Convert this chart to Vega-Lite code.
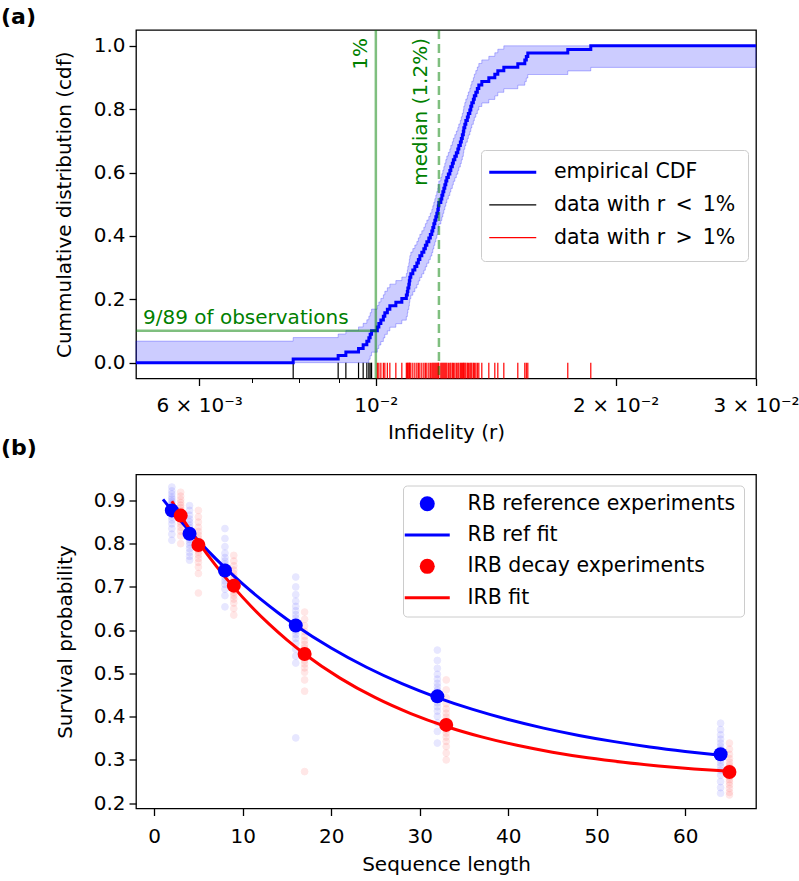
{
  "$schema": "https://vega.github.io/schema/vega-lite/v6.json",
  "padding": {"left": 0, "top": 5, "right": 5, "bottom": 5},
  "background": "white",
  "config": {
    "font": "DejaVu Sans",
    "view": {"stroke": "#000000", "strokeWidth": 1.3},
    "axis": {
      "domain": false, "grid": false,
      "tickColor": "#000000", "tickWidth": 1.3, "tickSize": 7,
      "labelFont": "DejaVu Sans", "labelFontSize": 20, "labelColor": "#000000", "labelPadding": 4,
      "titleFont": "DejaVu Sans", "titleFontSize": 20, "titleFontWeight": "normal", "titleColor": "#000000"
    },
    "title": {"font": "DejaVu Sans", "fontSize": 22, "fontWeight": "bold", "color": "#000000", "anchor": "start", "frame": "group", "baseline": "alphabetic"}
  },
  "datasets": {
    "cdf": [
      {"r": 0.005, "c": 0, "lo": 0, "hi": 0.068, "g": "edge"},
      {"r": 0.007875, "c": 0.0112, "lo": 0, "hi": 0.0792, "g": "b"},
      {"r": 0.008968, "c": 0.0225, "lo": 0, "hi": 0.0905, "g": "b"},
      {"r": 0.00917, "c": 0.0337, "lo": 0, "hi": 0.1017, "g": "b"},
      {"r": 0.009512, "c": 0.0449, "lo": 0, "hi": 0.1129, "g": "b"},
      {"r": 0.00964, "c": 0.0562, "lo": 0, "hi": 0.1242, "g": "b"},
      {"r": 0.009743, "c": 0.0674, "lo": 0, "hi": 0.1354, "g": "b"},
      {"r": 0.0098, "c": 0.0787, "lo": 0.0107, "hi": 0.1467, "g": "b"},
      {"r": 0.009837, "c": 0.0899, "lo": 0.0219, "hi": 0.1579, "g": "b"},
      {"r": 0.009877, "c": 0.1011, "lo": 0.0331, "hi": 0.1691, "g": "b"},
      {"r": 0.010043, "c": 0.1124, "lo": 0.0444, "hi": 0.1804, "g": "a"},
      {"r": 0.010087, "c": 0.1236, "lo": 0.0556, "hi": 0.1916, "g": "a"},
      {"r": 0.010146, "c": 0.1348, "lo": 0.0668, "hi": 0.2028, "g": "a"},
      {"r": 0.010219, "c": 0.1461, "lo": 0.0781, "hi": 0.2141, "g": "a"},
      {"r": 0.010263, "c": 0.1573, "lo": 0.0893, "hi": 0.2253, "g": "a"},
      {"r": 0.010338, "c": 0.1685, "lo": 0.1005, "hi": 0.2365, "g": "a"},
      {"r": 0.010413, "c": 0.1798, "lo": 0.1118, "hi": 0.2478, "g": "a"},
      {"r": 0.010595, "c": 0.191, "lo": 0.123, "hi": 0.259, "g": "a"},
      {"r": 0.01078, "c": 0.2022, "lo": 0.1342, "hi": 0.2702, "g": "a"},
      {"r": 0.010921, "c": 0.2135, "lo": 0.1455, "hi": 0.2815, "g": "a"},
      {"r": 0.010953, "c": 0.2247, "lo": 0.1567, "hi": 0.2927, "g": "a"},
      {"r": 0.010969, "c": 0.236, "lo": 0.168, "hi": 0.304, "g": "a"},
      {"r": 0.011, "c": 0.2472, "lo": 0.1792, "hi": 0.3152, "g": "a"},
      {"r": 0.011016, "c": 0.2584, "lo": 0.1904, "hi": 0.3264, "g": "a"},
      {"r": 0.011032, "c": 0.2697, "lo": 0.2017, "hi": 0.3377, "g": "a"},
      {"r": 0.011064, "c": 0.2809, "lo": 0.2129, "hi": 0.3489, "g": "a"},
      {"r": 0.011128, "c": 0.2921, "lo": 0.2241, "hi": 0.3601, "g": "a"},
      {"r": 0.011193, "c": 0.3034, "lo": 0.2354, "hi": 0.3714, "g": "a"},
      {"r": 0.011258, "c": 0.3146, "lo": 0.2466, "hi": 0.3826, "g": "a"},
      {"r": 0.011307, "c": 0.3258, "lo": 0.2578, "hi": 0.3938, "g": "a"},
      {"r": 0.011356, "c": 0.3371, "lo": 0.2691, "hi": 0.4051, "g": "a"},
      {"r": 0.011421, "c": 0.3483, "lo": 0.2803, "hi": 0.4163, "g": "a"},
      {"r": 0.011488, "c": 0.3596, "lo": 0.2916, "hi": 0.4276, "g": "a"},
      {"r": 0.011538, "c": 0.3708, "lo": 0.3028, "hi": 0.4388, "g": "a"},
      {"r": 0.011588, "c": 0.382, "lo": 0.314, "hi": 0.45, "g": "a"},
      {"r": 0.011655, "c": 0.3933, "lo": 0.3253, "hi": 0.4613, "g": "a"},
      {"r": 0.011705, "c": 0.4045, "lo": 0.3365, "hi": 0.4725, "g": "a"},
      {"r": 0.011756, "c": 0.4157, "lo": 0.3477, "hi": 0.4837, "g": "a"},
      {"r": 0.01179, "c": 0.427, "lo": 0.359, "hi": 0.495, "g": "a"},
      {"r": 0.011824, "c": 0.4382, "lo": 0.3702, "hi": 0.5062, "g": "a"},
      {"r": 0.011859, "c": 0.4494, "lo": 0.3814, "hi": 0.5174, "g": "a"},
      {"r": 0.011893, "c": 0.4607, "lo": 0.3927, "hi": 0.5287, "g": "a"},
      {"r": 0.011927, "c": 0.4719, "lo": 0.4039, "hi": 0.5399, "g": "a"},
      {"r": 0.011962, "c": 0.4831, "lo": 0.4151, "hi": 0.5511, "g": "a"},
      {"r": 0.011979, "c": 0.4944, "lo": 0.4264, "hi": 0.5624, "g": "a"},
      {"r": 0.011996, "c": 0.5056, "lo": 0.4376, "hi": 0.5736, "g": "a"},
      {"r": 0.012066, "c": 0.5169, "lo": 0.4489, "hi": 0.5849, "g": "a"},
      {"r": 0.012101, "c": 0.5281, "lo": 0.4601, "hi": 0.5961, "g": "a"},
      {"r": 0.012136, "c": 0.5393, "lo": 0.4713, "hi": 0.6073, "g": "a"},
      {"r": 0.012171, "c": 0.5506, "lo": 0.4826, "hi": 0.6186, "g": "a"},
      {"r": 0.012206, "c": 0.5618, "lo": 0.4938, "hi": 0.6298, "g": "a"},
      {"r": 0.012241, "c": 0.573, "lo": 0.505, "hi": 0.641, "g": "a"},
      {"r": 0.012277, "c": 0.5843, "lo": 0.5163, "hi": 0.6523, "g": "a"},
      {"r": 0.01233, "c": 0.5955, "lo": 0.5275, "hi": 0.6635, "g": "a"},
      {"r": 0.012384, "c": 0.6067, "lo": 0.5387, "hi": 0.6747, "g": "a"},
      {"r": 0.01242, "c": 0.618, "lo": 0.55, "hi": 0.686, "g": "a"},
      {"r": 0.012473, "c": 0.6292, "lo": 0.5612, "hi": 0.6972, "g": "a"},
      {"r": 0.01251, "c": 0.6404, "lo": 0.5724, "hi": 0.7084, "g": "a"},
      {"r": 0.012564, "c": 0.6517, "lo": 0.5837, "hi": 0.7197, "g": "a"},
      {"r": 0.012618, "c": 0.6629, "lo": 0.5949, "hi": 0.7309, "g": "a"},
      {"r": 0.012673, "c": 0.6742, "lo": 0.6062, "hi": 0.7422, "g": "a"},
      {"r": 0.01271, "c": 0.6854, "lo": 0.6174, "hi": 0.7534, "g": "a"},
      {"r": 0.012765, "c": 0.6966, "lo": 0.6286, "hi": 0.7646, "g": "a"},
      {"r": 0.012802, "c": 0.7079, "lo": 0.6399, "hi": 0.7759, "g": "a"},
      {"r": 0.012839, "c": 0.7191, "lo": 0.6511, "hi": 0.7871, "g": "a"},
      {"r": 0.012876, "c": 0.7303, "lo": 0.6623, "hi": 0.7983, "g": "a"},
      {"r": 0.012895, "c": 0.7416, "lo": 0.6736, "hi": 0.8096, "g": "a"},
      {"r": 0.012932, "c": 0.7528, "lo": 0.6848, "hi": 0.8208, "g": "a"},
      {"r": 0.01297, "c": 0.764, "lo": 0.696, "hi": 0.832, "g": "a"},
      {"r": 0.013026, "c": 0.7753, "lo": 0.7073, "hi": 0.8433, "g": "a"},
      {"r": 0.013064, "c": 0.7865, "lo": 0.7185, "hi": 0.8545, "g": "a"},
      {"r": 0.01312, "c": 0.7978, "lo": 0.7298, "hi": 0.8658, "g": "a"},
      {"r": 0.013158, "c": 0.809, "lo": 0.741, "hi": 0.877, "g": "a"},
      {"r": 0.013196, "c": 0.8202, "lo": 0.7522, "hi": 0.8882, "g": "a"},
      {"r": 0.013254, "c": 0.8315, "lo": 0.7635, "hi": 0.8995, "g": "a"},
      {"r": 0.013292, "c": 0.8427, "lo": 0.7747, "hi": 0.9107, "g": "a"},
      {"r": 0.01335, "c": 0.8539, "lo": 0.7859, "hi": 0.9219, "g": "a"},
      {"r": 0.013408, "c": 0.8652, "lo": 0.7972, "hi": 0.9332, "g": "a"},
      {"r": 0.013466, "c": 0.8764, "lo": 0.8084, "hi": 0.9444, "g": "a"},
      {"r": 0.013583, "c": 0.8876, "lo": 0.8196, "hi": 0.9556, "g": "a"},
      {"r": 0.013861, "c": 0.8989, "lo": 0.8309, "hi": 0.9669, "g": "a"},
      {"r": 0.014103, "c": 0.9101, "lo": 0.8421, "hi": 0.9781, "g": "a"},
      {"r": 0.014226, "c": 0.9213, "lo": 0.8533, "hi": 0.9893, "g": "a"},
      {"r": 0.014475, "c": 0.9326, "lo": 0.8646, "hi": 1, "g": "a"},
      {"r": 0.015072, "c": 0.9438, "lo": 0.8758, "hi": 1, "g": "a"},
      {"r": 0.01538, "c": 0.9551, "lo": 0.8871, "hi": 1, "g": "a"},
      {"r": 0.015447, "c": 0.9663, "lo": 0.8983, "hi": 1, "g": "a"},
      {"r": 0.015514, "c": 0.9775, "lo": 0.9095, "hi": 1, "g": "a"},
      {"r": 0.017414, "c": 0.9888, "lo": 0.9208, "hi": 1, "g": "a"},
      {"r": 0.018611, "c": 1, "lo": 0.932, "hi": 1, "g": "a"},
      {"r": 0.03, "c": 1, "lo": 0.932, "hi": 1, "g": "edge"}
    ],
    "raw": [
      {"s": "RB", "L": 2, "p": 0.931}, {"s": "RB", "L": 2, "p": 0.922}, {"s": "RB", "L": 2, "p": 0.915}, {"s": "RB", "L": 2, "p": 0.908},
      {"s": "RB", "L": 2, "p": 0.903}, {"s": "RB", "L": 2, "p": 0.898}, {"s": "RB", "L": 2, "p": 0.893}, {"s": "RB", "L": 2, "p": 0.889},
      {"s": "RB", "L": 2, "p": 0.885}, {"s": "RB", "L": 2, "p": 0.881}, {"s": "RB", "L": 2, "p": 0.877}, {"s": "RB", "L": 2, "p": 0.872},
      {"s": "RB", "L": 2, "p": 0.868}, {"s": "RB", "L": 2, "p": 0.862}, {"s": "RB", "L": 2, "p": 0.855}, {"s": "RB", "L": 2, "p": 0.846},
      {"s": "RB", "L": 2, "p": 0.835}, {"s": "RB", "L": 2, "p": 0.822}, {"s": "RB", "L": 2, "p": 0.808},
      {"s": "IRB", "L": 3, "p": 0.919}, {"s": "IRB", "L": 3, "p": 0.91}, {"s": "IRB", "L": 3, "p": 0.902}, {"s": "IRB", "L": 3, "p": 0.895},
      {"s": "IRB", "L": 3, "p": 0.889}, {"s": "IRB", "L": 3, "p": 0.883}, {"s": "IRB", "L": 3, "p": 0.877}, {"s": "IRB", "L": 3, "p": 0.872},
      {"s": "IRB", "L": 3, "p": 0.867}, {"s": "IRB", "L": 3, "p": 0.862}, {"s": "IRB", "L": 3, "p": 0.857}, {"s": "IRB", "L": 3, "p": 0.851},
      {"s": "IRB", "L": 3, "p": 0.845}, {"s": "IRB", "L": 3, "p": 0.838}, {"s": "IRB", "L": 3, "p": 0.829}, {"s": "IRB", "L": 3, "p": 0.818},
      {"s": "IRB", "L": 3, "p": 0.8},
      {"s": "RB", "L": 4, "p": 0.888}, {"s": "RB", "L": 4, "p": 0.877}, {"s": "RB", "L": 4, "p": 0.866}, {"s": "RB", "L": 4, "p": 0.857},
      {"s": "RB", "L": 4, "p": 0.85}, {"s": "RB", "L": 4, "p": 0.843}, {"s": "RB", "L": 4, "p": 0.837}, {"s": "RB", "L": 4, "p": 0.831},
      {"s": "RB", "L": 4, "p": 0.826}, {"s": "RB", "L": 4, "p": 0.821}, {"s": "RB", "L": 4, "p": 0.816}, {"s": "RB", "L": 4, "p": 0.81},
      {"s": "RB", "L": 4, "p": 0.804}, {"s": "RB", "L": 4, "p": 0.797}, {"s": "RB", "L": 4, "p": 0.789}, {"s": "RB", "L": 4, "p": 0.78},
      {"s": "RB", "L": 4, "p": 0.771}, {"s": "RB", "L": 4, "p": 0.762},
      {"s": "IRB", "L": 5, "p": 0.877}, {"s": "IRB", "L": 5, "p": 0.862}, {"s": "IRB", "L": 5, "p": 0.85}, {"s": "IRB", "L": 5, "p": 0.838},
      {"s": "IRB", "L": 5, "p": 0.828}, {"s": "IRB", "L": 5, "p": 0.82}, {"s": "IRB", "L": 5, "p": 0.812}, {"s": "IRB", "L": 5, "p": 0.805},
      {"s": "IRB", "L": 5, "p": 0.799}, {"s": "IRB", "L": 5, "p": 0.793}, {"s": "IRB", "L": 5, "p": 0.787}, {"s": "IRB", "L": 5, "p": 0.781},
      {"s": "IRB", "L": 5, "p": 0.774}, {"s": "IRB", "L": 5, "p": 0.766}, {"s": "IRB", "L": 5, "p": 0.757}, {"s": "IRB", "L": 5, "p": 0.746},
      {"s": "IRB", "L": 5, "p": 0.731}, {"s": "IRB", "L": 5, "p": 0.686},
      {"s": "RB", "L": 8, "p": 0.835}, {"s": "RB", "L": 8, "p": 0.812}, {"s": "RB", "L": 8, "p": 0.793}, {"s": "RB", "L": 8, "p": 0.778},
      {"s": "RB", "L": 8, "p": 0.768}, {"s": "RB", "L": 8, "p": 0.76}, {"s": "RB", "L": 8, "p": 0.753}, {"s": "RB", "L": 8, "p": 0.747},
      {"s": "RB", "L": 8, "p": 0.741}, {"s": "RB", "L": 8, "p": 0.735}, {"s": "RB", "L": 8, "p": 0.729}, {"s": "RB", "L": 8, "p": 0.722},
      {"s": "RB", "L": 8, "p": 0.714}, {"s": "RB", "L": 8, "p": 0.706}, {"s": "RB", "L": 8, "p": 0.695}, {"s": "RB", "L": 8, "p": 0.68},
      {"s": "RB", "L": 8, "p": 0.654},
      {"s": "IRB", "L": 9, "p": 0.773}, {"s": "IRB", "L": 9, "p": 0.76}, {"s": "IRB", "L": 9, "p": 0.749}, {"s": "IRB", "L": 9, "p": 0.739},
      {"s": "IRB", "L": 9, "p": 0.731}, {"s": "IRB", "L": 9, "p": 0.724}, {"s": "IRB", "L": 9, "p": 0.717}, {"s": "IRB", "L": 9, "p": 0.711},
      {"s": "IRB", "L": 9, "p": 0.705}, {"s": "IRB", "L": 9, "p": 0.699}, {"s": "IRB", "L": 9, "p": 0.693}, {"s": "IRB", "L": 9, "p": 0.687},
      {"s": "IRB", "L": 9, "p": 0.68}, {"s": "IRB", "L": 9, "p": 0.672}, {"s": "IRB", "L": 9, "p": 0.663}, {"s": "IRB", "L": 9, "p": 0.65},
      {"s": "IRB", "L": 9, "p": 0.635},
      {"s": "RB", "L": 16, "p": 0.723}, {"s": "RB", "L": 16, "p": 0.7}, {"s": "RB", "L": 16, "p": 0.682}, {"s": "RB", "L": 16, "p": 0.667},
      {"s": "RB", "L": 16, "p": 0.655}, {"s": "RB", "L": 16, "p": 0.645}, {"s": "RB", "L": 16, "p": 0.636}, {"s": "RB", "L": 16, "p": 0.628},
      {"s": "RB", "L": 16, "p": 0.62}, {"s": "RB", "L": 16, "p": 0.613}, {"s": "RB", "L": 16, "p": 0.606}, {"s": "RB", "L": 16, "p": 0.598},
      {"s": "RB", "L": 16, "p": 0.59}, {"s": "RB", "L": 16, "p": 0.581}, {"s": "RB", "L": 16, "p": 0.57}, {"s": "RB", "L": 16, "p": 0.556},
      {"s": "RB", "L": 16, "p": 0.54}, {"s": "RB", "L": 16, "p": 0.524}, {"s": "RB", "L": 16, "p": 0.351},
      {"s": "IRB", "L": 17, "p": 0.642}, {"s": "IRB", "L": 17, "p": 0.625}, {"s": "IRB", "L": 17, "p": 0.61}, {"s": "IRB", "L": 17, "p": 0.597},
      {"s": "IRB", "L": 17, "p": 0.586}, {"s": "IRB", "L": 17, "p": 0.576}, {"s": "IRB", "L": 17, "p": 0.567}, {"s": "IRB", "L": 17, "p": 0.559},
      {"s": "IRB", "L": 17, "p": 0.552}, {"s": "IRB", "L": 17, "p": 0.545}, {"s": "IRB", "L": 17, "p": 0.538}, {"s": "IRB", "L": 17, "p": 0.53},
      {"s": "IRB", "L": 17, "p": 0.522}, {"s": "IRB", "L": 17, "p": 0.513}, {"s": "IRB", "L": 17, "p": 0.503}, {"s": "IRB", "L": 17, "p": 0.485},
      {"s": "IRB", "L": 17, "p": 0.459}, {"s": "IRB", "L": 17, "p": 0.273},
      {"s": "RB", "L": 32, "p": 0.554}, {"s": "RB", "L": 32, "p": 0.53}, {"s": "RB", "L": 32, "p": 0.512}, {"s": "RB", "L": 32, "p": 0.498},
      {"s": "RB", "L": 32, "p": 0.487}, {"s": "RB", "L": 32, "p": 0.477}, {"s": "RB", "L": 32, "p": 0.469}, {"s": "RB", "L": 32, "p": 0.461},
      {"s": "RB", "L": 32, "p": 0.454}, {"s": "RB", "L": 32, "p": 0.447}, {"s": "RB", "L": 32, "p": 0.44}, {"s": "RB", "L": 32, "p": 0.432},
      {"s": "RB", "L": 32, "p": 0.423}, {"s": "RB", "L": 32, "p": 0.413}, {"s": "RB", "L": 32, "p": 0.401}, {"s": "RB", "L": 32, "p": 0.386},
      {"s": "RB", "L": 32, "p": 0.366}, {"s": "RB", "L": 32, "p": 0.339},
      {"s": "IRB", "L": 33, "p": 0.485}, {"s": "IRB", "L": 33, "p": 0.462}, {"s": "IRB", "L": 33, "p": 0.444}, {"s": "IRB", "L": 33, "p": 0.43},
      {"s": "IRB", "L": 33, "p": 0.418}, {"s": "IRB", "L": 33, "p": 0.408}, {"s": "IRB", "L": 33, "p": 0.399}, {"s": "IRB", "L": 33, "p": 0.391},
      {"s": "IRB", "L": 33, "p": 0.384}, {"s": "IRB", "L": 33, "p": 0.377}, {"s": "IRB", "L": 33, "p": 0.37}, {"s": "IRB", "L": 33, "p": 0.362},
      {"s": "IRB", "L": 33, "p": 0.353}, {"s": "IRB", "L": 33, "p": 0.343}, {"s": "IRB", "L": 33, "p": 0.331}, {"s": "IRB", "L": 33, "p": 0.316},
      {"s": "IRB", "L": 33, "p": 0.3},
      {"s": "RB", "L": 64, "p": 0.385}, {"s": "RB", "L": 64, "p": 0.37}, {"s": "RB", "L": 64, "p": 0.358}, {"s": "RB", "L": 64, "p": 0.348},
      {"s": "RB", "L": 64, "p": 0.339}, {"s": "RB", "L": 64, "p": 0.331}, {"s": "RB", "L": 64, "p": 0.324}, {"s": "RB", "L": 64, "p": 0.318},
      {"s": "RB", "L": 64, "p": 0.312}, {"s": "RB", "L": 64, "p": 0.306}, {"s": "RB", "L": 64, "p": 0.3}, {"s": "RB", "L": 64, "p": 0.293},
      {"s": "RB", "L": 64, "p": 0.285}, {"s": "RB", "L": 64, "p": 0.276}, {"s": "RB", "L": 64, "p": 0.265}, {"s": "RB", "L": 64, "p": 0.25},
      {"s": "RB", "L": 64, "p": 0.236}, {"s": "RB", "L": 64, "p": 0.223},
      {"s": "IRB", "L": 65, "p": 0.339}, {"s": "IRB", "L": 65, "p": 0.325}, {"s": "IRB", "L": 65, "p": 0.313}, {"s": "IRB", "L": 65, "p": 0.303},
      {"s": "IRB", "L": 65, "p": 0.295}, {"s": "IRB", "L": 65, "p": 0.288}, {"s": "IRB", "L": 65, "p": 0.282}, {"s": "IRB", "L": 65, "p": 0.276},
      {"s": "IRB", "L": 65, "p": 0.271}, {"s": "IRB", "L": 65, "p": 0.266}, {"s": "IRB", "L": 65, "p": 0.261}, {"s": "IRB", "L": 65, "p": 0.255},
      {"s": "IRB", "L": 65, "p": 0.249}, {"s": "IRB", "L": 65, "p": 0.242}, {"s": "IRB", "L": 65, "p": 0.234}, {"s": "IRB", "L": 65, "p": 0.225},
      {"s": "IRB", "L": 65, "p": 0.219}
    ],
    "fit": [
      {"s": "RB ref fit", "L": 1, "p": 0.9024}, {"s": "RB ref fit", "L": 2, "p": 0.877}, {"s": "RB ref fit", "L": 3, "p": 0.8526},
      {"s": "RB ref fit", "L": 4, "p": 0.8292}, {"s": "RB ref fit", "L": 6, "p": 0.7852}, {"s": "RB ref fit", "L": 8, "p": 0.7445},
      {"s": "RB ref fit", "L": 10, "p": 0.707}, {"s": "RB ref fit", "L": 12, "p": 0.6724}, {"s": "RB ref fit", "L": 14, "p": 0.6405},
      {"s": "RB ref fit", "L": 16, "p": 0.611}, {"s": "RB ref fit", "L": 20, "p": 0.5588}, {"s": "RB ref fit", "L": 24, "p": 0.5143},
      {"s": "RB ref fit", "L": 28, "p": 0.4764}, {"s": "RB ref fit", "L": 32, "p": 0.4442}, {"s": "RB ref fit", "L": 36, "p": 0.4168},
      {"s": "RB ref fit", "L": 40, "p": 0.3935}, {"s": "RB ref fit", "L": 44, "p": 0.3736}, {"s": "RB ref fit", "L": 48, "p": 0.3567},
      {"s": "RB ref fit", "L": 52, "p": 0.3423}, {"s": "RB ref fit", "L": 56, "p": 0.33}, {"s": "RB ref fit", "L": 60, "p": 0.3196},
      {"s": "RB ref fit", "L": 64, "p": 0.3107},
      {"s": "IRB fit", "L": 2, "p": 0.8981}, {"s": "IRB fit", "L": 3, "p": 0.865}, {"s": "IRB fit", "L": 4, "p": 0.8336},
      {"s": "IRB fit", "L": 5, "p": 0.8037}, {"s": "IRB fit", "L": 7, "p": 0.7486}, {"s": "IRB fit", "L": 9, "p": 0.699},
      {"s": "IRB fit", "L": 11, "p": 0.6542}, {"s": "IRB fit", "L": 13, "p": 0.614}, {"s": "IRB fit", "L": 15, "p": 0.5777},
      {"s": "IRB fit", "L": 17, "p": 0.545}, {"s": "IRB fit", "L": 21, "p": 0.4892}, {"s": "IRB fit", "L": 25, "p": 0.4439},
      {"s": "IRB fit", "L": 29, "p": 0.4072}, {"s": "IRB fit", "L": 33, "p": 0.3774}, {"s": "IRB fit", "L": 37, "p": 0.3533},
      {"s": "IRB fit", "L": 41, "p": 0.3338}, {"s": "IRB fit", "L": 45, "p": 0.3179}, {"s": "IRB fit", "L": 49, "p": 0.305},
      {"s": "IRB fit", "L": 53, "p": 0.2946}, {"s": "IRB fit", "L": 57, "p": 0.2862}, {"s": "IRB fit", "L": 61, "p": 0.2793},
      {"s": "IRB fit", "L": 65, "p": 0.2738}
    ],
    "mean": [
      {"s": "RB reference experiments", "L": 2, "p": 0.877}, {"s": "RB reference experiments", "L": 4, "p": 0.823},
      {"s": "RB reference experiments", "L": 8, "p": 0.738}, {"s": "RB reference experiments", "L": 16, "p": 0.611},
      {"s": "RB reference experiments", "L": 32, "p": 0.447}, {"s": "RB reference experiments", "L": 64, "p": 0.313},
      {"s": "IRB decay experiments", "L": 3, "p": 0.865}, {"s": "IRB decay experiments", "L": 5, "p": 0.797},
      {"s": "IRB decay experiments", "L": 9, "p": 0.703}, {"s": "IRB decay experiments", "L": 17, "p": 0.545},
      {"s": "IRB decay experiments", "L": 33, "p": 0.381}, {"s": "IRB decay experiments", "L": 65, "p": 0.272}
    ]
  },
  "spacing": 95.5,
  "bounds": "flush",
  "resolve": {"scale": {"color": "independent"}, "legend": {"color": "independent"}},
  "vconcat": [
    {
      "width": 620,
      "height": 348.5,
      "title": {"text": "(a)", "dx": -135, "offset": 0},
      "layer": [
        {
          "data": {"name": "cdf"},
          "mark": {"type": "area", "interpolate": "step-after", "fill": "#0000ff", "fillOpacity": 0.2, "stroke": "#0000ff", "strokeOpacity": 0.25, "strokeWidth": 1},
          "encoding": {
            "x": {
              "field": "r", "type": "quantitative",
              "scale": {"type": "log", "domain": [0.005, 0.03], "nice": false},
              "axis": {
                "title": "Infidelity (r)",
                "values": [0.006, 0.007, 0.008, 0.009, 0.01, 0.02, 0.03],
                "labelExpr": "datum.value == 0.006 ? '6 × 10⁻³' : datum.value == 0.01 ? '10⁻²' : datum.value == 0.02 ? '2 × 10⁻²' : datum.value == 0.03 ? '3 × 10⁻²' : ''",
                "tickSize": {"condition": {"test": "datum.value > 0.0065 && datum.value < 0.0095", "value": 4}, "value": 7},
                "tickWidth": {"condition": {"test": "datum.value > 0.0065 && datum.value < 0.0095", "value": 1}, "value": 1.3},
                "labelFlush": false, "labelOverlap": false, "labelPadding": 10, "titlePadding": 7
              }
            },
            "y": {
              "field": "lo", "type": "quantitative",
              "scale": {"domain": [-0.05, 1.05], "nice": false, "zero": false},
              "axis": {"title": "Cummulative distribution (cdf)", "values": [0, 0.2, 0.4, 0.6, 0.8, 1], "format": ".1f", "titlePadding": 19}
            },
            "y2": {"field": "hi"}
          }
        },
        {
          "data": {"name": "cdf"},
          "transform": [{"filter": {"field": "g", "oneOf": ["b", "a"]}}],
          "mark": {"type": "rule", "strokeWidth": 1.2},
          "encoding": {
            "x": {"field": "r", "type": "quantitative"},
            "y": {"datum": -0.05},
            "y2": {"datum": 0},
            "color": {
              "field": "g", "type": "nominal",
              "scale": {"domain": ["cdf", "b", "a"], "range": ["#0000ff", "#000000", "#ff0000"]},
              "legend": {
                "title": null, "orient": "none", "legendX": 345, "legendY": 120,
                "padding": 12, "rowPadding": 11.7, "symbolSize": 400, "symbolOffset": 9.5, "labelOffset": 31,
                "symbolType": "M-2.35,0H2.35",
                "labelFont": "DejaVu Sans", "labelFontSize": 20.5, "labelColor": "#000000", "labelLimit": 400,
                "fillColor": "rgba(255,255,255,0.8)", "strokeColor": "#cccccc", "cornerRadius": 4,
                "labelExpr": "datum.value == 'cdf' ? 'empirical CDF' : datum.value == 'b' ? 'data with r\u2002<\u20021%' : 'data with r\u2002>\u20021%'",
                "encode": {
                  "symbols": {
                    "update": {
                      "strokeWidth": {"signal": "datum.value == 'cdf' ? 3 : 1.2"},
                      "stroke": {"signal": "datum.value == 'cdf' ? '#0000ff' : datum.value == 'b' ? '#000000' : '#ff0000'"},
                      "fill": {"value": "transparent"}
                    }
                  }
                }
              }
            }
          }
        },
        {
          "data": {"name": "cdf"},
          "mark": {"type": "line", "interpolate": "step-after", "strokeWidth": 3},
          "encoding": {
            "x": {"field": "r", "type": "quantitative"},
            "y": {"field": "c", "type": "quantitative"},
            "color": {"datum": "cdf", "type": "nominal"}
          }
        },
        {
          "data": {"values": [{}]},
          "mark": {"type": "rule", "color": "#008000", "opacity": 0.5, "strokeWidth": 2.5},
          "encoding": {"x": {"datum": 0.01}}
        },
        {
          "data": {"values": [{}]},
          "mark": {"type": "rule", "color": "#008000", "opacity": 0.5, "strokeWidth": 2.5, "strokeDash": [9, 5]},
          "encoding": {"x": {"datum": 0.012}}
        },
        {
          "data": {"values": [{}]},
          "mark": {"type": "rule", "color": "#008000", "opacity": 0.5, "strokeWidth": 2.5},
          "encoding": {"x": {"datum": 0.005}, "x2": {"datum": 0.01}, "y": {"datum": 0.1011}}
        },
        {
          "data": {"values": [{"t": "1%"}]},
          "mark": {"type": "text", "angle": 270, "align": "right", "baseline": "alphabetic", "dx": -8, "dy": -9, "font": "DejaVu Sans", "fontSize": 20, "color": "#008000"},
          "encoding": {
            "x": {"datum": 0.01},
            "y": {"datum": 1.05},
            "text": {"field": "t"}
          }
        },
        {
          "data": {"values": [{"t": "median (1.2%)"}]},
          "mark": {"type": "text", "angle": 270, "align": "right", "baseline": "alphabetic", "dx": -8, "dy": -12, "font": "DejaVu Sans", "fontSize": 20, "color": "#008000"},
          "encoding": {
            "x": {"datum": 0.012},
            "y": {"datum": 1.05},
            "text": {"field": "t"}
          }
        },
        {
          "data": {"values": [{"t": "9/89 of observations"}]},
          "mark": {"type": "text", "align": "left", "baseline": "alphabetic", "dx": 7, "dy": -7, "font": "DejaVu Sans", "fontSize": 20, "color": "#008000"},
          "encoding": {
            "x": {"datum": 0.005},
            "y": {"datum": 0.1011},
            "text": {"field": "t"}
          }
        }
      ]
    },
    {
      "width": 620,
      "height": 334,
      "title": {"text": "(b)", "dx": -135, "offset": 15},
      "layer": [
        {
          "data": {"name": "raw"},
          "transform": [{"filter": "datum.s == 'RB'"}],
          "mark": {"type": "point", "filled": true, "fill": "#0000ff", "stroke": "#0000ff", "strokeWidth": 1, "opacity": 0.09, "size": 45},
          "encoding": {
            "x": {
              "field": "L", "type": "quantitative",
              "scale": {"domain": [-2.05, 68], "nice": false, "zero": false},
              "axis": {"title": "Sequence length", "values": [0, 10, 20, 30, 40, 50, 60], "labelPadding": 11, "titlePadding": 8}
            },
            "y": {
              "field": "p", "type": "quantitative",
              "scale": {"domain": [0.1877, 0.96], "nice": false, "zero": false},
              "axis": {"title": "Survival probability", "values": [0.2, 0.3, 0.4, 0.5, 0.6, 0.7, 0.8, 0.9], "format": ".1f", "titlePadding": 18}
            }
          }
        },
        {
          "data": {"name": "raw"},
          "transform": [{"filter": "datum.s == 'IRB'"}],
          "mark": {"type": "point", "filled": true, "fill": "#ff0000", "stroke": "#ff0000", "strokeWidth": 1, "opacity": 0.09, "size": 45},
          "encoding": {
            "x": {"field": "L", "type": "quantitative"},
            "y": {"field": "p", "type": "quantitative"}
          }
        },
        {
          "data": {"name": "fit"},
          "mark": {"type": "line", "strokeWidth": 3, "interpolate": "monotone"},
          "encoding": {
            "x": {"field": "L", "type": "quantitative"},
            "y": {"field": "p", "type": "quantitative"},
            "color": {
              "field": "s", "type": "nominal",
              "scale": {"domain": ["RB reference experiments", "RB ref fit", "IRB decay experiments", "IRB fit"], "range": ["#0000ff", "#0000ff", "#ff0000", "#ff0000"]},
              "legend": {
                "title": null, "orient": "none", "legendX": 267, "legendY": 11,
                "padding": 8, "rowPadding": 10.3, "symbolSize": 225, "symbolOffset": 6, "labelOffset": 30,
                "labelFont": "DejaVu Sans", "labelFontSize": 20.5, "labelColor": "#000000", "labelLimit": 400,
                "fillColor": "rgba(255,255,255,0.8)", "strokeColor": "#cccccc", "cornerRadius": 4,
                "encode": {
                  "symbols": {
                    "update": {
                      "shape": {"signal": "indexof(['RB ref fit', 'IRB fit'], datum.value) >= 0 ? 'M-3,-0.2H3V0.2H-3Z' : 'circle'"},
                      "fill": {"signal": "indexof(['RB reference experiments', 'RB ref fit'], datum.value) >= 0 ? '#0000ff' : '#ff0000'"},
                      "stroke": {"value": "transparent"},
                      "strokeWidth": {"value": 0},
                      "opacity": {"value": 1}
                    }
                  }
                }
              }
            }
          }
        },
        {
          "data": {"name": "mean"},
          "mark": {"type": "point", "filled": true, "opacity": 1, "size": 196},
          "encoding": {
            "x": {"field": "L", "type": "quantitative"},
            "y": {"field": "p", "type": "quantitative"},
            "color": {"field": "s", "type": "nominal"}
          }
        }
      ]
    }
  ]
}
